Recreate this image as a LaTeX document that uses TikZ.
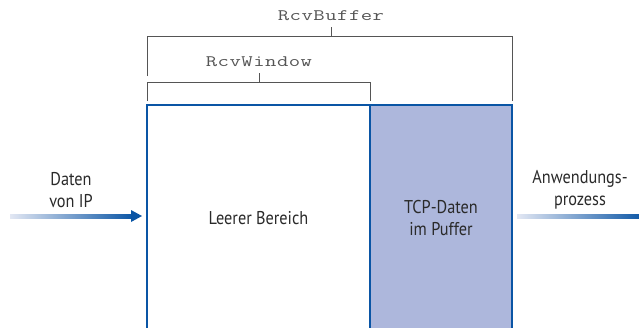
\documentclass[tikz,border=0pt]{standalone}
\usepackage{fontspec}
\setmainfont{PT Sans}[FakeStretch=0.88]
\setmonofont{Latin Modern Mono}[FakeStretch=1.38, LetterSpace=3]
\definecolor{boxblue}{HTML}{0A55A5}
\definecolor{fillblue}{HTML}{ADB7DC}
\definecolor{lightblue}{HTML}{E2E7F3}
\definecolor{brk}{HTML}{555555}
\definecolor{txt}{HTML}{2A2A2A}
\tikzset{
  region/.style={draw=boxblue, line width=2.4pt, inner sep=0pt},
  lbl/.style={text=txt, font=\fontsize{18.5}{22.5}\selectfont, align=center},
  code/.style={text=brk, font=\ttfamily\fontsize{16}{18}\selectfont},
  bracket/.style={draw=brk, line width=0.9pt},
}
\begin{document}
\begin{tikzpicture}[x=1pt,y=-1pt]
\useasboundingbox (0,0) rectangle (639,327);
% regions
\node[region, fill=fillblue, minimum width=142pt, minimum height=226pt] (full) at (441,218) {};
\node[region, fill=white, minimum width=223pt, minimum height=226pt] (empty) at (258.5,218) {};
\node[lbl] at (empty.center) {Leerer Bereich};
\node[lbl] at (full.center) {TCP-Daten\\im Puffer};
% brackets
\coordinate (wl) at (147,101);
\coordinate (wr) at (370,101);
\coordinate (bl) at (147,76);
\coordinate (br) at (512,101);
\draw[bracket] (wl) -- (147,82) -- (370,82) -- (wr);
\draw[bracket] (259,82) -- (259,73);
\draw[bracket] (bl) -- (147,36) -- (512,36) -- (br);
\draw[bracket] (331,36) -- (331,27);
\node[code] (win) at (259,62) {RcvWindow};
\node[code] (buf) at (331,16) {RcvBuffer};
% input arrow
\node[lbl] (in) at (71,190) {Daten\\von IP};
\coordinate (ins) at (10,216);
\coordinate (ine) at (142,216);
\shade[left color=lightblue, right color=boxblue] (ins) ++(0,-2) rectangle (134,218);
\fill[boxblue] (131,210) -- (ine) -- (131,222) -- cycle;
% output arrow
\node[lbl] (out) at (580,190) {Anwendungs-\\prozess};
\coordinate (outs) at (517,216);
\shade[left color=lightblue, right color=boxblue] (outs) ++(0,-2) rectangle (645,218);
\end{tikzpicture}
\end{document}
